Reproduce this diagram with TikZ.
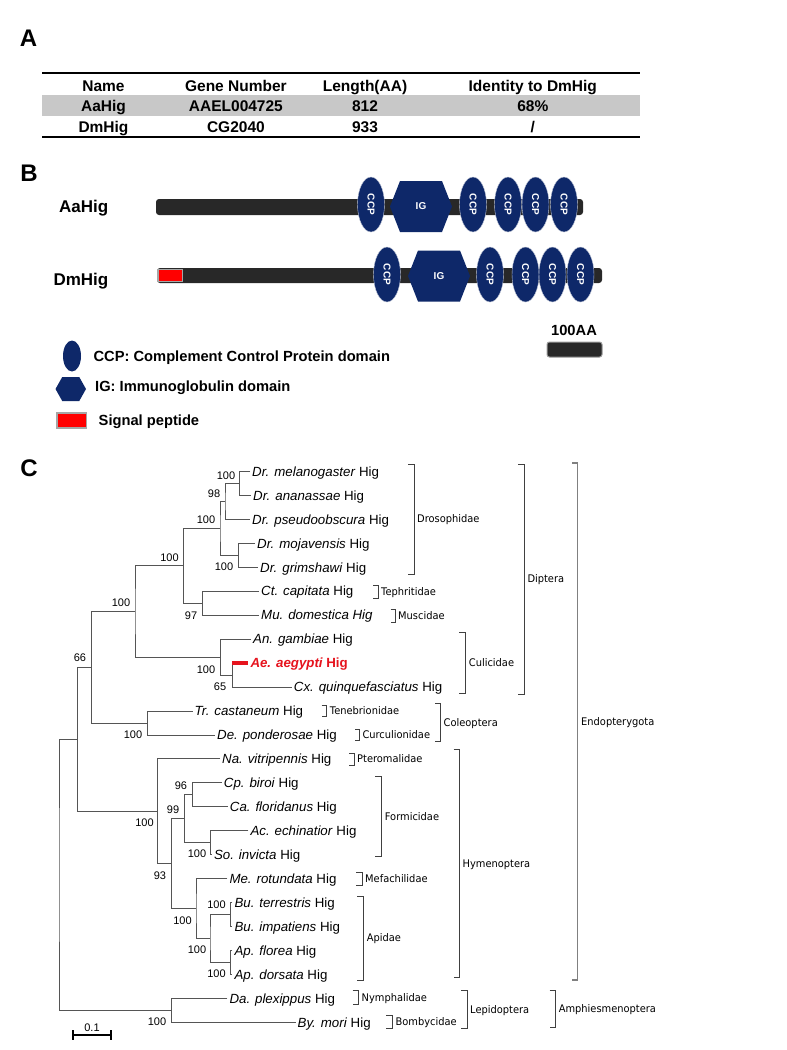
\documentclass[tikz,border=0pt]{standalone}
\usepackage{fontspec}
\setmainfont{Liberation Sans}
\newfontfamily\famfont[FakeStretch=0.94]{DejaVu Sans}
\usetikzlibrary{calc}
\definecolor{navy}{RGB}{14,40,105}
\definecolor{barcol}{RGB}{40,40,40}
\definecolor{rowgray}{RGB}{200,200,200}
\definecolor{treegray}{RGB}{85,85,85}
\definecolor{aered}{RGB}{230,20,30}
\newcommand{\setfs}[1]{\fontsize{#1pt}{#1pt}\selectfont}
\newcommand{\ccpdom}[3]{%
  \fill[navy, draw=white!75!navy, line width=0.4pt] (#2,#3) ellipse [x radius=13.5pt, y radius=27.5pt];
  \node[ccptxt] (#1) at (#2,#3) {CCP};}
\newcommand{\igdom}[3]{%
  \fill[navy] ($(#2,#3)+(-31,0)$) -- ++(10,-25.5) -- ++(42,0) -- ++(10,25.5) -- ++(-10,25.5) -- ++(-42,0) -- cycle;
  \node[igtxt] (#1) at (#2,#3) {IG};}
\newcommand{\famb}[6]{%
  \draw[brk] (#2,#4) -- (#3,#4) -- (#3,#5) -- (#2,#5);
  \node[famtxt] (#1) at ({#3+3},{(#4+#5)/2}) {#6};}
\begin{document}
\begin{tikzpicture}[x=1pt,y=-1pt,
  tl/.style={draw=treegray, line width=0.9pt},
  brk/.style={draw=black!75, line width=0.8pt},
  tiptxt/.style={anchor=base west, inner sep=0pt, xshift=2pt, yshift=-4.7pt, font=\setfs{13.3}},
  bsl/.style={anchor=base, inner sep=0pt, yshift=-4pt, font=\setfs{11}},
  famtxt/.style={anchor=base west, inner sep=0pt, yshift=-3.8pt, font=\famfont\setfs{10.5}},
  tab/.style={anchor=base, inner sep=0pt, yshift=-5.5pt, font=\bfseries\setfs{15.5}},
  panel/.style={anchor=center, inner sep=0pt, font=\bfseries\setfs{24}},
  ccptxt/.style={inner sep=0pt, text=white, rotate=-90, font=\bfseries\setfs{10}},
  igtxt/.style={inner sep=0pt, text=white, font=\bfseries\setfs{10}},
  prot/.style={anchor=base east, inner sep=0pt, font=\bfseries\setfs{17}},
  leg/.style={anchor=base west, inner sep=0pt, yshift=-5.3pt, font=\bfseries\setfs{14.7}}
]
\useasboundingbox[fill=white] (0,0) rectangle (787,1050);

% ---------------- Panel A ----------------
\node[panel] (pA) at (28.5,38.5) {A};
\fill[rowgray] (42,95.3) rectangle (640,116);
\draw[line width=2pt] (42,72.7) -- (640,72.7);
\draw[line width=2pt] (42,137.3) -- (640,137.3);
\node[tab] (h1) at (103.5,85.7) {Name};
\node[tab] (h2) at (235.9,85.7) {Gene Number};
\node[tab] (h3) at (365,85.7) {Length(AA)};
\node[tab] (h4) at (532.8,85.7) {Identity to DmHig};
\node[tab] (r11) at (103.5,106) {AaHig};
\node[tab] (r12) at (235.9,106) {AAEL004725};
\node[tab] (r13) at (365,106) {812};
\node[tab] (r14) at (532.8,106) {68\%};
\node[tab] (r21) at (103.5,127.3) {DmHig};
\node[tab] (r22) at (235.9,127.3) {CG2040};
\node[tab] (r23) at (365,127.3) {933};
\node[tab] (r24) at (532.8,127.3) {/};

% ---------------- Panel B ----------------
\node[panel] (pB) at (29,173.5) {B};
\node[prot] (aalab) at (108.5,212.5) {AaHig};
\node[prot] (dmlab) at (108.5,285.8) {DmHig};
\fill[barcol, rounded corners=3pt] (156,199) rectangle (583,215);
\fill[barcol, rounded corners=3pt] (157,268) rectangle (602,283);
\draw[fill=red, draw=black!35, line width=1.2pt] (158,269.8) rectangle (182.5,281.5);
% AaHig domains
\ccpdom{a1}{371}{204.5}
\igdom{aig}{421}{206.5}
\ccpdom{a2}{473}{204.5}
\ccpdom{a3}{508}{204.5}
\ccpdom{a4}{535.5}{204.5}
\ccpdom{a5}{564}{204.5}
% DmHig domains
\ccpdom{d1}{387}{274.5}
\igdom{dig}{439}{276}
\ccpdom{d2}{490}{274.5}
\ccpdom{d3}{525.5}{274.5}
\ccpdom{d4}{552.5}{274.5}
\ccpdom{d5}{580.5}{274.5}
% scale bar
\node[anchor=base, inner sep=0pt, font=\bfseries\setfs{14.7}] (sc100) at (574,335) {100AA};
\draw[fill=barcol, draw=black!40, line width=1pt, rounded corners=2.5pt] (547,342) rectangle (602,357);
% legend
\fill[navy] (72,356) ellipse [x radius=9pt, y radius=15.5pt];
\node[leg] (lccp) at (93.4,356) {CCP: Complement Control Protein domain};
\fill[navy] (55.5,389) -- ++(6.75,-12) -- ++(17,0) -- ++(6.75,12) -- ++(-6.75,12) -- ++(-17,0) -- cycle;
\node[leg] (lig) at (95,386) {IG: Immunoglobulin domain};
\draw[fill=red, draw=black!35, line width=1.5pt] (57,413) rectangle (86.5,428);
\node[leg] (lsp) at (98.5,420) {Signal peptide};

% ---------------- Panel C ----------------
\node[panel] (pC) at (29,468) {C};
% tip ends
\coordinate (tmel) at (250,471.5);
\coordinate (tana) at (251,495.45);
\coordinate (tpse) at (250,519.4);
\coordinate (tmoj) at (255,543.35);
\coordinate (tgri) at (258,567.3);
\coordinate (tct) at (259,591.25);
\coordinate (tmu) at (259,615.2);
\coordinate (tan) at (251,639.15);
\coordinate (tae) at (248.3,663.1);
\coordinate (tcx) at (291.7,687.05);
\coordinate (ttr) at (192.5,711);
\coordinate (tde) at (215,734.95);
\coordinate (tna) at (220,758.9);
\coordinate (tcp) at (221.7,782.85);
\coordinate (tca) at (227.7,806.8);
\coordinate (tac) at (248.3,830.75);
\coordinate (tso) at (211.8,854.7);
\coordinate (tme) at (227.3,878.65);
\coordinate (tbt) at (232.3,902.6);
\coordinate (tbi) at (232.3,926.55);
\coordinate (taf) at (232.3,950.5);
\coordinate (tad) at (232.3,974.45);
\coordinate (tda) at (227.3,998.4);
\coordinate (tbm) at (295.5,1022.35);
% internal nodes
\coordinate (ma) at (239.3,483.5);
\coordinate (n98) at (225,501.4);
\coordinate (mg) at (238.3,555.3);
\coordinate (dro) at (220,528.4);
\coordinate (cm) at (202.7,603.2);
\coordinate (bra) at (183.3,565.8);
\coordinate (ac2) at (232.3,675.1);
\coordinate (cul) at (220.7,657.1);
\coordinate (dip) at (135,611.5);
\coordinate (col) at (147.3,723);
\coordinate (dc) at (91.7,667.2);
\coordinate (cpca) at (192.3,794.8);
\coordinate (acso) at (210.7,842.7);
\coordinate (form) at (184.3,818.8);
\coordinate (bu) at (230.8,914.6);
\coordinate (ap) at (230.8,962.5);
\coordinate (api) at (210,938.5);
\coordinate (mea) at (196,908.6);
\coordinate (n93) at (171.2,863.7);
\coordinate (hym) at (157.3,811.3);
\coordinate (n66) at (77.7,739.3);
\coordinate (lep) at (171.7,1010.4);
\coordinate (root) at (59,874.8);
% branches
\draw[tl] (tmel) -| (ma) |- (tana);
\draw[tl] (ma) -| (n98) |- (tpse);
\draw[tl] (tmoj) -| (mg) |- (tgri);
\draw[tl] (n98) -| (dro) |- (mg);
\draw[tl] (tct) -| (cm) |- (tmu);
\draw[tl] (dro) -| (bra) |- (cm);
\draw[tl] (ac2 |- tae) -- (ac2) |- (tcx);
\draw[tl] (tan) -| (cul) |- (ac2);
\draw[tl] (bra) -| (dip) |- (cul);
\draw[tl] (ttr) -| (col) |- (tde);
\draw[tl] (dip) -| (dc) |- (col);
\draw[tl] (tcp) -| (cpca) |- (tca);
\draw[tl] (tac) -| (acso) |- (tso);
\draw[tl] (cpca) -| (form) |- (acso);
\draw[tl] (tbt) -| (bu) |- (tbi);
\draw[tl] (taf) -| (ap) |- (tad);
\draw[tl] (bu) -| (api) |- (ap);
\draw[tl] (tme) -| (mea) |- (api);
\draw[tl] (form) -| (n93) |- (mea);
\draw[tl] (tna) -| (hym) |- (n93);
\draw[tl] (dc) -| (n66) |- (hym);
\draw[tl] (tda) -| (lep) |- (tbm);
\draw[tl] (n66) -| (root) |- (lep);
\draw[aered, line width=3.8pt] (ac2 |- tae) -- (tae);
% tip labels
\node[tiptxt] (lmel) at (tmel) {\textit{Dr. melanogaster} Hig};
\node[tiptxt] (lana) at (tana) {\textit{Dr. ananassae} Hig};
\node[tiptxt] (lpse) at (tpse) {\textit{Dr. pseudoobscura} Hig};
\node[tiptxt] (lmoj) at (tmoj) {\textit{Dr. mojavensis} Hig};
\node[tiptxt] (lgri) at (tgri) {\textit{Dr. grimshawi} Hig};
\node[tiptxt] (lct) at (tct) {\textit{Ct. capitata} Hig};
\node[tiptxt] (lmu) at (tmu) {\textit{Mu. domestica Hig}};
\node[tiptxt] (lan) at (tan) {\textit{An. gambiae} Hig};
\node[tiptxt, text=aered] (lae) at (tae) {\bfseries\itshape Ae. aegypti \upshape Hig};
\node[tiptxt] (lcx) at (tcx) {\textit{Cx. quinquefasciatus} Hig};
\node[tiptxt] (ltr) at (ttr) {\textit{Tr. castaneum} Hig};
\node[tiptxt] (lde) at (tde) {\textit{De. ponderosae} Hig};
\node[tiptxt] (lna) at (tna) {\textit{Na. vitripennis} Hig};
\node[tiptxt] (lcp) at (tcp) {\textit{Cp. biroi} Hig};
\node[tiptxt] (lca) at (tca) {\textit{Ca. floridanus} Hig};
\node[tiptxt] (lac) at (tac) {\textit{Ac. echinatior} Hig};
\node[tiptxt] (lso) at (tso) {\textit{So. invicta} Hig};
\node[tiptxt] (lme) at (tme) {\textit{Me. rotundata} Hig};
\node[tiptxt] (lbt) at (tbt) {\textit{Bu. terrestris} Hig};
\node[tiptxt] (lbi) at (tbi) {\textit{Bu. impatiens} Hig};
\node[tiptxt] (laf) at (taf) {\textit{Ap. florea} Hig};
\node[tiptxt] (lad) at (tad) {\textit{Ap. dorsata} Hig};
\node[tiptxt] (lda) at (tda) {\textit{Da. plexippus} Hig};
\node[tiptxt] (lbm) at (tbm) {\textit{By. mori} Hig};
% bootstrap values
\node[bsl] (b1) at (226,475) {100};
\node[bsl] (b2) at (214,493.3) {98};
\node[bsl] (b3) at (206,519.3) {100};
\node[bsl] (b4) at (224,566.7) {100};
\node[bsl] (b5) at (169.5,557.3) {100};
\node[bsl] (b6) at (121,602.7) {100};
\node[bsl] (b7) at (191,615.7) {97};
\node[bsl] (b8) at (80,657.7) {66};
\node[bsl] (b9) at (206,669.3) {100};
\node[bsl] (b10) at (220,686.7) {65};
\node[bsl] (b11) at (133,734.3) {100};
\node[bsl] (b12) at (181,785.7) {96};
\node[bsl] (b13) at (173,809.3) {99};
\node[bsl] (b14) at (144.5,822.7) {100};
\node[bsl] (b15) at (197,853.3) {100};
\node[bsl] (b16) at (160,875) {93};
\node[bsl] (b17) at (182.5,920) {100};
\node[bsl] (b18) at (216.5,904.3) {100};
\node[bsl] (b19) at (197,949.3) {100};
\node[bsl] (b20) at (216.5,973.3) {100};
\node[bsl] (b21) at (157,1021) {100};
% family / order brackets
\famb{fdro}{408.3}{414}{464}{574}{Drosophidae}
\famb{ftep}{373}{378}{585}{598.3}{Tephritidae}
\famb{fmus}{390.7}{395}{609}{622}{Muscidae}
\famb{fcul}{459.3}{465.7}{632.7}{693.3}{Culicidae}
\famb{fdip}{518.3}{524.3}{464}{694}{Diptera}
\famb{ften}{321.7}{326.7}{705}{716.7}{Tenebrionidae}
\famb{fcur}{355}{359.3}{729.3}{740.7}{Curculionidae}
\famb{fcol}{435}{440.5}{703.5}{741}{Coleoptera}
\famb{fpte}{349.3}{354}{753.3}{765}{Pteromalidae}
\famb{ffor}{375}{381.7}{776}{856.7}{Formicidae}
\famb{fhym}{453.5}{459.5}{749.3}{977.3}{Hymenoptera}
\famb{fmef}{356}{362}{872.7}{885}{Mefachilidae}
\famb{fapi}{357}{363.6}{896}{980}{Apidae}
\famb{fnym}{352.5}{358.5}{990.7}{1004}{Nymphalidae}
\famb{fbom}{386.4}{392.4}{1015}{1028.3}{Bombycidae}
\famb{flep}{461}{467}{990.7}{1028.3}{Lepidoptera}
\famb{famp}{549.5}{555.6}{990.7}{1027.3}{Amphiesmenoptera}
\draw[draw=black!50, line width=1.3pt] (572,463) -- (577.5,463) -- (577.5,980) -- (572,980);
\node[famtxt] (fend) at (581,721.5) {Endopterygota};
% scale bar
\coordinate (sbl) at (73,1035);
\coordinate (sbr) at (111,1035);
\draw[line width=1.3pt] (sbl) -- (sbr);
\draw[line width=1.3pt] ([yshift=5pt]sbl) -- ([yshift=-5pt]sbl);
\draw[line width=1.3pt] ([yshift=5pt]sbr) -- ([yshift=-5pt]sbr);
\node[bsl] (sbt) at (92,1027) {0.1};
\end{tikzpicture}
\end{document}
